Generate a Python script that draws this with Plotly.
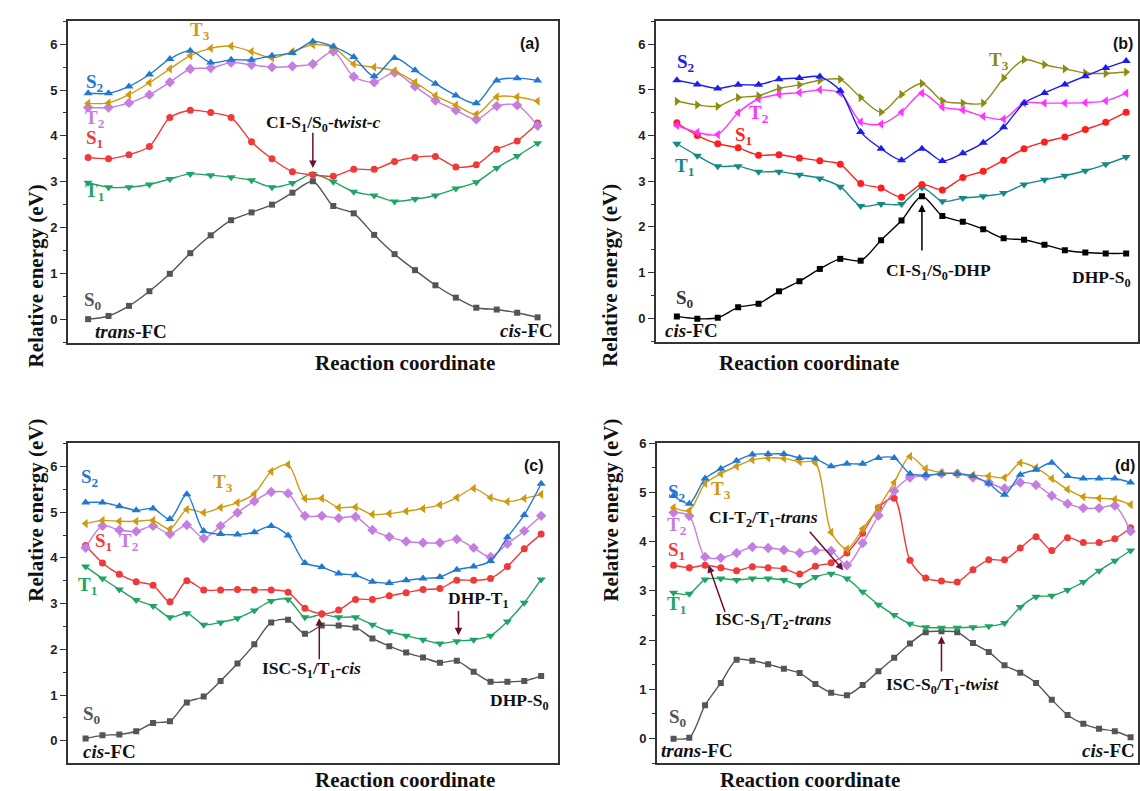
import plotly.graph_objects as go

# ---------------- Panel (a) ----------------
a_S0 = [0.0, 0.07, 0.29, 0.61, 0.99, 1.44, 1.83, 2.16, 2.33, 2.50, 2.76, 3.01, 2.47, 2.31, 1.84, 1.42, 1.07, 0.74, 0.47, 0.25, 0.21, 0.14, 0.04]
a_T1 = [2.98, 2.88, 2.88, 2.94, 3.06, 3.17, 3.14, 3.10, 3.03, 2.88, 2.97, 3.17, 3.00, 2.78, 2.70, 2.57, 2.62, 2.70, 2.85, 2.99, 3.30, 3.56, 3.84]
a_S1 = [3.53, 3.50, 3.59, 3.77, 4.40, 4.56, 4.51, 4.40, 3.87, 3.50, 3.22, 3.15, 3.12, 3.27, 3.27, 3.44, 3.53, 3.55, 3.32, 3.37, 3.71, 3.89, 4.28]
a_T2 = [4.62, 4.62, 4.72, 4.90, 5.17, 5.46, 5.48, 5.60, 5.55, 5.50, 5.52, 5.57, 5.84, 5.29, 5.17, 5.38, 5.08, 4.77, 4.56, 4.36, 4.65, 4.67, 4.22]
a_T3 = [4.71, 4.72, 4.90, 5.16, 5.46, 5.75, 5.91, 5.96, 5.84, 5.70, 5.84, 5.99, 5.93, 5.57, 5.50, 5.42, 5.17, 4.88, 4.67, 4.47, 4.85, 4.85, 4.76]
a_S2 = [4.93, 4.93, 5.08, 5.34, 5.68, 5.86, 5.60, 5.66, 5.66, 5.75, 5.81, 6.06, 5.95, 5.72, 5.30, 5.70, 5.43, 5.14, 4.88, 4.71, 5.21, 5.26, 5.21]

# ---------------- Panel (b) ----------------
b_S0 = [0.04, -0.01, 0.01, 0.24, 0.32, 0.59, 0.81, 1.08, 1.30, 1.26, 1.71, 2.14, 2.67, 2.24, 2.11, 1.95, 1.75, 1.72, 1.61, 1.49, 1.44, 1.42, 1.42]
b_T1 = [3.82, 3.56, 3.33, 3.33, 3.21, 3.21, 3.14, 3.06, 2.88, 2.46, 2.50, 2.50, 2.86, 2.56, 2.63, 2.67, 2.74, 2.93, 3.03, 3.12, 3.23, 3.37, 3.53]
b_S1 = [4.28, 4.00, 3.82, 3.73, 3.57, 3.58, 3.51, 3.45, 3.37, 2.95, 2.85, 2.65, 2.93, 2.81, 3.08, 3.22, 3.46, 3.71, 3.86, 3.97, 4.13, 4.29, 4.51]
b_T2 = [4.22, 4.07, 4.02, 4.50, 4.80, 4.90, 4.94, 5.00, 4.93, 4.30, 4.25, 4.51, 4.93, 4.62, 4.56, 4.42, 4.36, 4.71, 4.71, 4.71, 4.72, 4.76, 4.93]
b_T3 = [4.75, 4.67, 4.64, 4.83, 4.87, 5.03, 5.11, 5.21, 5.23, 4.83, 4.51, 4.90, 5.14, 4.76, 4.71, 4.71, 5.26, 5.66, 5.55, 5.46, 5.37, 5.36, 5.39]
b_S2 = [5.21, 5.12, 5.03, 5.11, 5.11, 5.23, 5.26, 5.29, 4.98, 4.08, 3.71, 3.46, 3.71, 3.44, 3.61, 3.84, 4.18, 4.71, 4.93, 5.12, 5.30, 5.48, 5.63]

# ---------------- Panel (c) ----------------
c_S0 = [0.05, 0.12, 0.14, 0.21, 0.39, 0.43, 0.84, 0.97, 1.31, 1.69, 2.11, 2.59, 2.65, 2.34, 2.52, 2.52, 2.48, 2.24, 2.07, 1.93, 1.82, 1.71, 1.75, 1.51, 1.29, 1.29, 1.31, 1.42]
c_T1 = [3.81, 3.55, 3.31, 3.08, 2.95, 2.70, 2.79, 2.54, 2.59, 2.68, 2.85, 3.06, 3.09, 2.70, 2.76, 2.70, 2.70, 2.54, 2.39, 2.30, 2.21, 2.13, 2.18, 2.21, 2.30, 2.61, 3.02, 3.53]
c_S1 = [4.27, 3.89, 3.64, 3.48, 3.40, 3.04, 3.50, 3.30, 3.30, 3.31, 3.30, 3.30, 3.25, 2.90, 2.78, 2.86, 3.09, 3.09, 3.17, 3.24, 3.31, 3.33, 3.51, 3.51, 3.55, 3.81, 4.20, 4.52]
c_T2 = [4.22, 4.70, 4.61, 4.58, 4.70, 4.52, 4.72, 4.43, 4.70, 4.99, 5.24, 5.44, 5.41, 4.92, 4.92, 4.87, 4.90, 4.61, 4.46, 4.36, 4.33, 4.33, 4.41, 4.22, 4.02, 4.31, 4.59, 4.92]
c_T3 = [4.75, 4.82, 4.80, 4.80, 4.82, 4.63, 5.06, 4.99, 5.10, 5.21, 5.40, 5.89, 6.04, 5.30, 5.30, 5.10, 5.11, 4.95, 4.97, 5.02, 5.08, 5.16, 5.32, 5.52, 5.32, 5.23, 5.30, 5.39]
c_S2 = [5.21, 5.21, 5.13, 5.04, 5.08, 4.85, 5.39, 4.59, 4.52, 4.51, 4.56, 4.70, 4.49, 3.89, 3.80, 3.66, 3.62, 3.48, 3.45, 3.51, 3.55, 3.58, 3.74, 3.81, 3.93, 4.45, 4.94, 5.62]

# ---------------- Panel (d) ----------------
d_S0 = [0.0, 0.02, 0.68, 1.13, 1.60, 1.58, 1.51, 1.42, 1.33, 1.11, 0.93, 0.88, 1.09, 1.37, 1.64, 1.93, 2.16, 2.18, 2.16, 1.94, 1.76, 1.49, 1.34, 1.13, 0.79, 0.48, 0.30, 0.20, 0.15, 0.03]
d_T1 = [2.96, 2.94, 3.23, 3.25, 3.22, 3.25, 3.25, 3.22, 3.12, 3.28, 3.35, 3.25, 2.98, 2.72, 2.51, 2.33, 2.26, 2.25, 2.25, 2.26, 2.28, 2.35, 2.67, 2.88, 2.90, 3.02, 3.18, 3.41, 3.61, 3.82]
d_S1 = [3.52, 3.47, 3.52, 3.47, 3.41, 3.49, 3.47, 3.45, 3.34, 3.50, 3.57, 3.77, 4.17, 4.69, 4.88, 3.62, 3.26, 3.20, 3.18, 3.43, 3.63, 3.63, 3.87, 4.10, 3.82, 4.08, 3.98, 3.98, 4.06, 4.28]
d_T2 = [4.59, 4.52, 3.69, 3.67, 3.77, 3.89, 3.87, 3.83, 3.77, 3.82, 3.81, 3.52, 3.97, 4.53, 5.03, 5.30, 5.33, 5.38, 5.38, 5.30, 5.20, 5.08, 5.20, 5.15, 4.93, 4.77, 4.68, 4.68, 4.73, 4.21]
d_T3 = [4.69, 4.63, 5.18, 5.38, 5.53, 5.66, 5.70, 5.69, 5.62, 5.60, 4.19, 3.85, 4.26, 4.69, 5.20, 5.73, 5.48, 5.40, 5.38, 5.35, 5.33, 5.30, 5.60, 5.50, 5.28, 5.06, 4.91, 4.88, 4.86, 4.75]
d_S2 = [4.93, 4.77, 5.28, 5.48, 5.64, 5.77, 5.78, 5.78, 5.70, 5.68, 5.53, 5.58, 5.58, 5.70, 5.70, 5.38, 5.35, 5.38, 5.38, 5.33, 5.18, 4.95, 5.36, 5.46, 5.60, 5.33, 5.28, 5.28, 5.28, 5.20]

y_ticks = [0, 1, 2, 3, 4, 5, 6]

# colours
C_S0, C_S1, C_T1, C_S2, C_T2, C_T3 = "#555555", "#f03a3a", "#1fa463", "#1f78d1", "#c47ee0", "#cf9a10"
B_S0, B_S1, B_T1, B_S2, B_T2, B_T3 = "#000000", "#ff1f1f", "#178888", "#1c1cf0", "#ff33ff", "#8c8c12"

W, H = 1140, 791
SERIF = "Liberation Serif, Times New Roman, serif"
SANS = "Liberation Sans, Arial, sans-serif"
LAB = 19      # state labels
ANN = 17.5    # annotation texts

def px(x):
    return x / W

def py(y):
    return 1 - y / H

def dom_x(l, r):
    return [px(l), min(1.0, px(r))]

def dom_y(t, b):
    return [py(b), py(t)]

panels = [
    dict(name="(a)", series=[(a_S0, C_S0, "square", 6), (a_T1, C_T1, "triangle-down", 8), (a_S1, C_S1, "circle", 7),
                              (a_T2, C_T2, "diamond", 8), (a_T3, C_T3, "triangle-left", 8), (a_S2, C_S2, "triangle-up", 8)],
         box=(68, 559, 14, 339), xr=[-0.99, 23.0], yr=[-0.52, 6.51], tb=359, tag=543),
    dict(name="(b)", series=[(b_S0, B_S0, "square", 6), (b_T1, B_T1, "triangle-down", 8), (b_S1, B_S1, "circle", 7),
                              (b_T2, B_T2, "triangle-left", 8), (b_T3, B_T3, "triangle-right", 8), (b_S2, B_S2, "triangle-up", 8)],
         box=(657, 1140, 14, 338), xr=[-1.03, 22.58], yr=[-0.52, 6.51], tb=359, tag=1137),
    dict(name="(c)", series=[(c_S0, C_S0, "square", 6), (c_T1, C_T1, "triangle-down", 8), (c_S1, C_S1, "circle", 7),
                              (c_T2, C_T2, "diamond", 8), (c_T3, C_T3, "triangle-left", 8), (c_S2, C_S2, "triangle-up", 8)],
         box=(68, 559, 440, 763), xr=[-1.05, 28.0], yr=[-0.49, 6.51], tb=780, tag=547),
    dict(name="(d)", series=[(d_S0, C_S0, "square", 6), (d_T1, C_T1, "triangle-down", 8), (d_S1, C_S1, "circle", 7),
                              (d_T2, C_T2, "diamond", 8), (d_T3, C_T3, "triangle-left", 8), (d_S2, C_S2, "triangle-up", 8)],
         box=(658, 1140, 440, 763), xr=[-1.06, 29.47], yr=[-0.5, 6.0], tb=780, tag=1139),
]

fig = go.Figure()
layout = dict(width=W, height=H, margin=dict(l=0, r=0, t=0, b=0), paper_bgcolor="white",
              plot_bgcolor="white", showlegend=False)
annotations = []

for i, p in enumerate(panels):
    n = i + 1
    xs = "x" if n == 1 else f"x{n}"
    ys = "y" if n == 1 else f"y{n}"
    l, r, t, b = p["box"]
    for vals, col, sym, sz in p["series"]:
        fig.add_trace(go.Scatter(x=list(range(len(vals))), y=vals, xaxis=xs, yaxis=ys, mode="lines+markers",
                                 line=dict(color=col, width=1.4, shape="spline", smoothing=0.8),
                                 marker=dict(symbol=sym, size=sz, color=col), hoverinfo="skip"))
    xkey = "xaxis" if n == 1 else f"xaxis{n}"
    ykey = "yaxis" if n == 1 else f"yaxis{n}"
    layout[xkey] = dict(domain=dom_x(l, r), range=p["xr"], anchor=ys, showgrid=False, zeroline=False,
                        showticklabels=False, ticks="", showline=True, linecolor="#333", linewidth=1.6,
                        mirror=True)
    layout[ykey] = dict(domain=dom_y(t, b), range=p["yr"], anchor=xs, showgrid=False, zeroline=False,
                        tickvals=y_ticks, ticks="outside", ticklen=6, tickwidth=1.3, tickcolor="#333",
                        tickfont=dict(family=SANS, size=13, color="#222", weight="bold"),
                        showline=True, linecolor="#333", linewidth=1.6, mirror=True,
                        minor=dict(dtick=0.5, ticks="outside", ticklen=3, tickwidth=1.1, tickcolor="#333"))
    rkey = f"yaxis{n + 4}"
    layout[rkey] = dict(overlaying=ys, side="right", anchor=xs, range=p["yr"], showgrid=False, zeroline=False,
                        tickvals=y_ticks, ticks="inside", ticklen=6, tickwidth=1.3, tickcolor="#333",
                        showticklabels=False, showline=False,
                        minor=dict(dtick=0.5, ticks="inside", ticklen=3, tickwidth=1.1, tickcolor="#333"))
    annotations.append(dict(text="<b>" + p["name"] + "</b>", xref="paper", yref="paper",
                            x=px(p["tag"]), y=py(t + 12), xanchor="right", yanchor="top",
                            showarrow=False, font=dict(family=SANS, size=16, color="#111")))
    annotations.append(dict(text="<b>Relative energy (eV)</b>", xref="paper", yref="paper",
                            x=px(l - 46), y=py((t + b) / 2), textangle=-90, showarrow=False,
                            font=dict(family=SERIF, size=21, color="#111")))
    cx = (l + 559 - 68 + l) / 2 if r >= 1140 else (l + r) / 2
    annotations.append(dict(text="<b>Reaction coordinate</b>", xref="paper", yref="paper",
                            x=px(cx), y=py(p["tb"]), yanchor="middle", showarrow=False,
                            font=dict(family=SERIF, size=21, color="#111")))

def lab(n, text, x, y, color, size=LAB):
    xs = "x" if n == 1 else f"x{n}"
    ys = "y" if n == 1 else f"y{n}"
    annotations.append(dict(text="<b>" + text + "</b>", xref=xs, yref=ys, x=x, y=y, showarrow=False,
                            font=dict(family=SERIF, size=size, color=color)))

def arrow(n, x, y, ax, ay, color):
    xs = "x" if n == 1 else f"x{n}"
    ys = "y" if n == 1 else f"y{n}"
    annotations.append(dict(text="", xref=xs, yref=ys, axref=xs, ayref=ys, x=x, y=y, ax=ax, ay=ay,
                            showarrow=True, arrowhead=2, arrowsize=1, arrowwidth=1.5, arrowcolor=color))

MAROON = "#6b1030"
# (a)
lab(1, "S<sub>2</sub>", 0.33, 5.15, C_S2)
lab(1, "T<sub>2</sub>", 0.33, 4.37, C_T2)
lab(1, "S<sub>1</sub>", 0.33, 3.94, C_S1)
lab(1, "T<sub>1</sub>", 0.33, 2.77, C_T1)
lab(1, "S<sub>0</sub>", 0.25, 0.39, C_S0)
lab(1, "T<sub>3</sub>", 5.46, 6.28, C_T3)
lab(1, "<i>trans</i>-FC", 2.09, -0.26, "#111")
lab(1, "<i>cis</i>-FC", 21.45, -0.24, "#111")
lab(1, "CI-S<sub>1</sub>/S<sub>0</sub>-<i>twist-c</i>", 11.5, 4.26, "#111", ANN)
arrow(1, 11, 3.3, 11, 4.1, MAROON)
# (b)
lab(2, "S<sub>2</sub>", 0.43, 5.58, B_S2)
lab(2, "T<sub>2</sub>", 4.03, 4.48, B_T2)
lab(2, "S<sub>1</sub>", 3.26, 4.0, B_S1)
lab(2, "T<sub>1</sub>", 0.38, 3.31, B_T1)
lab(2, "S<sub>0</sub>", 0.38, 0.43, "#333")
lab(2, "T<sub>3</sub>", 15.78, 5.63, B_T3)
lab(2, "<i>cis</i>-FC", 0.72, -0.26, "#111")
lab(2, "CI-S<sub>1</sub>/S<sub>0</sub>-DHP", 12.8, 1.02, "#111", ANN)
lab(2, "DHP-S<sub>0</sub>", 20.8, 0.87, "#111", ANN)
arrow(2, 12, 2.49, 12, 1.45, "#000")
# (c)
lab(3, "S<sub>2</sub>", 0.24, 5.75, C_S2)
lab(3, "T<sub>3</sub>", 8.17, 5.64, C_T3)
lab(3, "S<sub>1</sub>", 1.07, 4.34, C_S1)
lab(3, "T<sub>2</sub>", 2.6, 4.34, C_T2)
lab(3, "T<sub>1</sub>", 0.12, 3.39, C_T1)
lab(3, "S<sub>0</sub>", 0.4, 0.56, C_S0)
lab(3, "<i>cis</i>-FC", 1.42, -0.24, "#111")
lab(3, "ISC-S<sub>1</sub>/T<sub>1</sub>-<i>cis</i>", 13.37, 1.57, "#111", ANN)
arrow(3, 13.85, 2.68, 13.85, 1.75, MAROON)
lab(3, "DHP-T<sub>1</sub>", 23.3, 3.09, "#111", ANN)
arrow(3, 22.1, 2.31, 22.1, 2.87, MAROON)
lab(3, "DHP-S<sub>0</sub>", 25.7, 0.86, "#111", ANN)
# (d)
lab(4, "S<sub>2</sub>", 0.19, 4.99, C_S2)
lab(4, "T<sub>3</sub>", 2.98, 5.05, C_T3)
lab(4, "T<sub>2</sub>", 0.19, 4.31, C_T2)
lab(4, "S<sub>1</sub>", 0.19, 3.81, C_S1)
lab(4, "T<sub>1</sub>", 0.19, 2.72, C_T1)
lab(4, "S<sub>0</sub>", 0.3, 0.41, C_S0)
lab(4, "<i>trans</i>-FC", 1.46, -0.24, "#111")
lab(4, "<i>cis</i>-FC", 27.6, -0.24, "#111")
lab(4, "CI-T<sub>2</sub>/T<sub>1</sub>-<i>trans</i>", 5.7, 4.47, "#111", ANN)
arrow(4, 10.77, 3.42, 8.56, 4.23, MAROON)
lab(4, "ISC-S<sub>1</sub>/T<sub>2</sub>-<i>trans</i>", 6.34, 2.40, "#111", ANN)
arrow(4, 2.22, 3.52, 3.3, 2.54, MAROON)
lab(4, "ISC-S<sub>0</sub>/T<sub>1</sub>-<i>twist</i>", 17.1, 1.07, "#111", ANN)
arrow(4, 17.0, 2.08, 17.0, 1.33, MAROON)

layout["annotations"] = annotations
fig.update_layout(**layout)
fig.write_html("out.html", config={"displayModeBar": False},
               post_script="document.body.style.margin='0';document.body.style.overflow='hidden';")
